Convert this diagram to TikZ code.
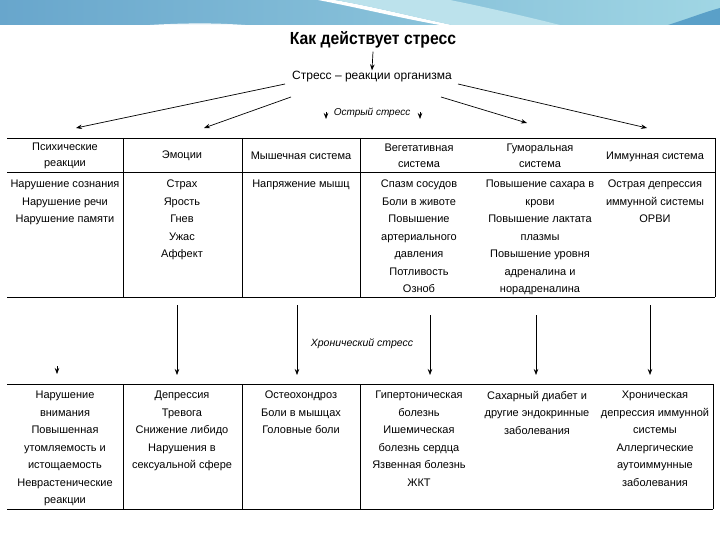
\documentclass[tikz,border=0pt]{standalone}
\usepackage{fontspec}
\usepackage{graphicx}
\setmainfont{Liberation Sans}
\usetikzlibrary{arrows.meta}
\definecolor{bandL}{RGB}{104,166,204}
\definecolor{bandR}{RGB}{160,214,228}
\definecolor{bandD}{RGB}{90,160,200}
\begin{document}
\begin{tikzpicture}[x=1pt,y=-1pt,
  cell/.style={align=center,inner sep=0pt,anchor=north,font=\fontsize{11}{17.5}\selectfont},
  headcell/.style={align=center,inner sep=0pt,anchor=center,font=\fontsize{11}{16}\selectfont},
  tline/.style={line width=0.8pt,black},
  arr/.style={line width=0.7pt,-{Stealth[length=6pt,width=4.5pt]}},
  lbl/.style={inner sep=0pt,font=\fontsize{10}{12}\selectfont\itshape}]
\useasboundingbox (0,0) rectangle (720,540);
% banner
\shade[left color=bandL,right color=bandR] (0,0) rectangle (720,25);
\fill[white,opacity=0.9] (150,25) .. controls (200,22) and (230,24) .. (245,25) -- cycle;
\fill[white] (318,0) .. controls (360,8) and (400,18) .. (440,25) -- (452,25) .. controls (410,16) and (370,6) .. (335,0) -- cycle;
\fill[bandR!70!white] (335,0) .. controls (370,6) and (410,16) .. (452,25) -- (560,25) .. controls (520,15) and (480,6) .. (450,0) -- cycle;
\fill[bandD] (668,25) .. controls (690,18) and (705,12) .. (720,8) -- (720,25) -- cycle;
% title and source
\node[inner sep=0pt,font=\fontsize{17.5}{20}\selectfont\bfseries] (title) at (373,40) {\scalebox{0.9}[1]{Как действует стресс}};
\node[inner sep=1pt,font=\fontsize{12}{14}\selectfont] (sub) at (372,77) {Стресс – реакции организма};
\draw[arr] (title.south) ++(0,3) coordinate (t0) (t0) -- (sub.north);
% upper arrows
\coordinate (s1) at (285,84); \coordinate (e1) at (76,128);
\coordinate (s2) at (291,97); \coordinate (e2) at (204,128);
\coordinate (s4) at (441,97); \coordinate (e4) at (527,123);
\coordinate (s5) at (458,84); \coordinate (e5) at (647,128);
\draw[arr] (s1) -- (e1);
\draw[arr] (s2) -- (e2);
\draw[arr] (s4) -- (e4);
\draw[arr] (s5) -- (e5);
\node[lbl] (acute) at (372,113) {Острый стресс};
\coordinate (m1s) at (326,112); \coordinate (m1e) at (326,119);
\coordinate (m2s) at (420,112); \coordinate (m2e) at (420,119);
\draw[arr] (m1s) -- (m1e);
\draw[arr] (m2s) -- (m2e);
% upper table
\draw[tline] (7,138) -- (715,138);
\draw[tline] (7,172) -- (715,172);
\draw[tline] (7,297) -- (715,297);
\draw[tline] (715,138) -- (715,297);
\foreach \x in {123,242,360} \draw[tline] (\x,138) -- (\x,297);
\node[headcell] (h1) at (65,156) {Психические\\реакции};
\node[headcell] (h2) at (182,156) {Эмоции};
\node[headcell] (h3) at (301,156) {Мышечная система};
\node[headcell] (h4) at (419,156) {Вегетативная\\система};
\node[headcell] (h5) at (540,156) {Гуморальная\\система};
\node[headcell] (h6) at (655,157) {Иммунная система};
\node[cell] (b1) at (65,180) {Нарушение сознания\\Нарушение речи\\Нарушение памяти};
\node[cell] (b2) at (182,180) {Страх\\Ярость\\Гнев\\Ужас\\Аффект};
\node[cell] (b3) at (301,180) {Напряжение мышц};
\node[cell] (b4) at (419,180) {Спазм сосудов\\Боли в животе\\Повышение\\артериального\\давления\\Потливость\\Озноб};
\node[cell] (b5) at (540,180) {Повышение сахара в\\крови\\Повышение лактата\\плазмы\\Повышение уровня\\адреналина и\\норадреналина};
\node[cell] (b6) at (655,180) {Острая депрессия\\иммунной системы\\ОРВИ};
% middle arrows
\node[lbl,font=\fontsize{10.5}{12}\selectfont\itshape] (chronic) at (362,344) {Хронический стресс};
\coordinate (c0s) at (57,366); \coordinate (c0e) at (57,374);
\draw[arr] (c0s) -- (c0e);
\foreach \x/\y in {177/305,297/305,430/315,536/315,650/305}{
  \draw[arr] (\x,\y) coordinate (cs\x) -- (\x,375) coordinate (ce\x);
}
% lower table
\draw[tline] (7,384) -- (713,384);
\draw[tline] (7,509) -- (713,509);
\draw[tline] (713,384) -- (713,509);
\foreach \x in {123,242,360} \draw[tline] (\x,384) -- (\x,509);
\node[cell] (l1) at (65,391) {Нарушение\\внимания\\Повышенная\\утомляемость и\\истощаемость\\Неврастенические\\реакции};
\node[cell] (l2) at (182,391) {Депрессия\\Тревога\\Снижение либидо\\Нарушения в\\сексуальной сфере};
\node[cell] (l3) at (301,391) {Остеохондроз\\Боли в мышцах\\Головные боли};
\node[cell] (l4) at (419,391) {Гипертоническая\\болезнь\\Ишемическая\\болезнь сердца\\Язвенная болезнь\\ЖКТ};
\node[cell] (l5) at (537,391) {Сахарный диабет и\\другие эндокринные\\заболевания};
\node[cell] (l6) at (655,391) {Хроническая\\депрессия иммунной\\системы\\Аллергические\\аутоиммунные\\заболевания};
\end{tikzpicture}
\end{document}
